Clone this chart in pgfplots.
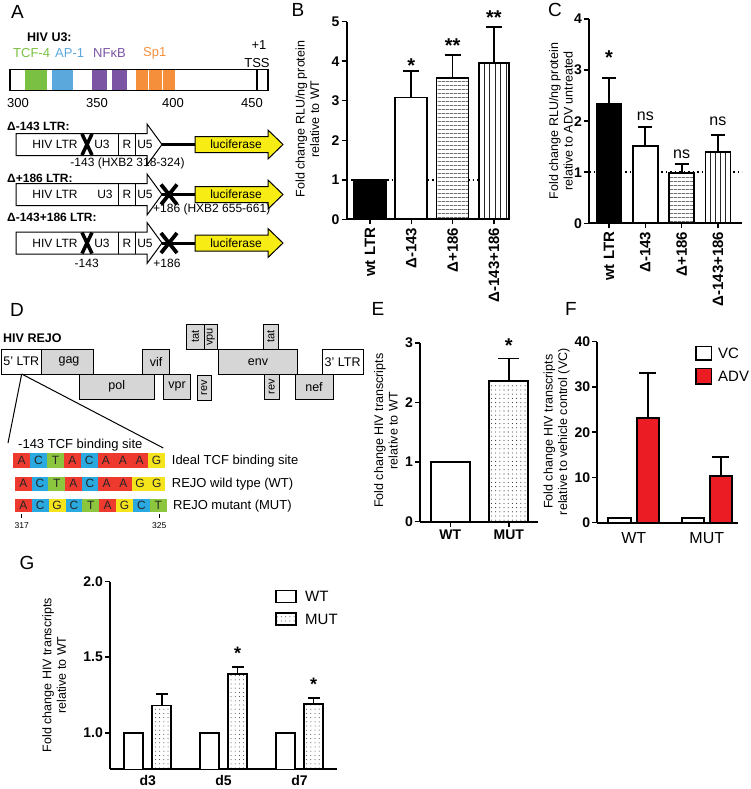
\documentclass[border=0pt]{standalone}
\usepackage{fontspec}
\setmainfont{Liberation Sans}
\usepackage{pgfplots}
\pgfplotsset{compat=1.18}
\usetikzlibrary{patterns.meta}
\newcommand{\fs}[1]{\fontsize{#1}{#1}\selectfont}
\definecolor{tcfgreen}{HTML}{7AC143}
\definecolor{apblue}{HTML}{5BA8DC}
\definecolor{nfpurple}{HTML}{7B55A3}
\definecolor{sporange}{HTML}{F58F3B}
\definecolor{lucyellow}{HTML}{F7EC13}
\definecolor{genegray}{HTML}{D6D6D6}
\definecolor{ntA}{HTML}{EE3A2E}
\definecolor{ntC}{HTML}{2AA9E0}
\definecolor{ntT}{HTML}{8CC63F}
\definecolor{ntG}{HTML}{F5E31C}
\definecolor{advred}{HTML}{EC1C24}
\pgfplotsset{
  gp/.style={scale only axis, axis x line*=bottom, axis y line*=left,
    axis line style={line width=1.8pt, black},
    tick style={black, line width=1.5pt},
    major tick length=5pt, tick align=outside,
    /pgf/number format/assume math mode=true,
    yticklabel style={font=\fs{14}\bfseries, inner sep=2pt},
    clip mode=individual},
  bar0/.style={ybar, bar shift=0pt, draw=black, line width=1.8pt},
  errb/.style={error bars/y dir=plus, error bars/y explicit,
    error bars/error bar style={line width=1.8pt, black},
    error bars/error mark options={rotate=90, line width=1.8pt, black, mark size=#1}},
}
\begin{document}
\begin{tikzpicture}
\useasboundingbox (0pt,0pt) rectangle (750pt,-789pt);
\begin{scope}[x=1pt,y=-1pt]
% ---------------- Panel letters
\node[font=\fs{19}] at (17.5,11.5) {A};
\node[font=\fs{19}] at (298,10) {B};
\node[font=\fs{19}] at (555,10) {C};
\node[font=\fs{19}] at (17,310) {D};
\node[font=\fs{19}] at (378,309) {E};
\node[font=\fs{19}] at (571,309) {F};
\node[font=\fs{19}] at (27,563) {G};
% ---------------- Panel A
\node[font=\fs{12.5}\bfseries, anchor=west, inner sep=0] at (27,37) {HIV U3:};
\node[font=\fs{13}, text=tcfgreen, anchor=west, inner sep=0] at (13,53.3) {TCF-4};
\node[font=\fs{13}, text=apblue, anchor=west, inner sep=0] at (55,53.3) {AP-1};
\node[font=\fs{13}, text=nfpurple, anchor=west, inner sep=0] at (93,53.3) {NFκB};
\node[font=\fs{13}, text=sporange, anchor=west, inner sep=0] at (143,53.3) {Sp1};
\node[font=\fs{13}] at (259,45) {+1};
\node[font=\fs{13}] at (257,63) {TSS};
\fill[tcfgreen] (25,69.3) rectangle (46.7,90.7);
\fill[apblue] (52.3,69.3) rectangle (73.3,90.7);
\fill[nfpurple] (92.3,69.3) rectangle (107.3,90.7);
\fill[nfpurple] (111.7,69.3) rectangle (126.7,90.7);
\fill[sporange] (136,69.3) rectangle (147.7,90.7);
\fill[sporange] (149.3,69.3) rectangle (161.7,90.7);
\fill[sporange] (163.3,69.3) rectangle (175,90.7);
\draw[line width=1.1pt] (10,69.3) rectangle (268,90.7);
\draw[line width=1.1pt] (257,69.3) -- (257,90.7);
\node[font=\fs{13}] at (18,103.3) {300};
\node[font=\fs{13}] at (97,103.3) {350};
\node[font=\fs{13}] at (173,103.3) {400};
\node[font=\fs{13}] at (252,103.3) {450};
% constructs
\node[font=\fs{12}\bfseries, anchor=west, inner sep=0] at (7,126) {Δ-143 LTR:};
\node[font=\fs{12}\bfseries, anchor=west, inner sep=0] at (7,178.3) {Δ+186 LTR:};
\node[font=\fs{12}\bfseries, anchor=west, inner sep=0] at (7,217.3) {Δ-143+186 LTR:};
\foreach \c/\xa/\xb/\ux in {144.5/1/0/102, 194.5/0/1/105, 243/1/1/102}{
\begin{scope}[shift={(0,\c)}]
\draw[line width=1pt, fill=white] (16,-11) -- (147,-11) -- (147,-20.5) -- (162,0) -- (147,20.5) -- (147,11) -- (16,11) -- cycle;
\draw[line width=1pt] (118,-11) -- (118,11) (135,-11) -- (135,11);
\draw[line width=3pt] (162,0) -- (195,0);
\draw[line width=1pt, fill=lucyellow] (195,-8) -- (268,-8) -- (268,-14.5) -- (283,0) -- (268,14.5) -- (268,8) -- (195,8) -- cycle;
\node[font=\fs{12}] at (236,0) {luciferase};
\node[font=\fs{12}] at (55,0) {HIV LTR};
\node[font=\fs{12}] at (\ux,0) {U3};
\node[font=\fs{12}] at (127,0) {R};
\node[font=\fs{12}] at (145,0) {U5};
\ifnum\xa=1 \draw[line width=3.5pt] (82,-10.5) -- (92,10.5) (82,10.5) -- (92,-10.5); \fi
\ifnum\xb=1 \draw[line width=3.8pt] (161,-10) -- (177,10) (161,10) -- (177,-10); \fi
\end{scope}}
\node[font=\fs{12}] at (127.5,163.3) {-143 (HXB2 318-324)};
\node[font=\fs{12}, anchor=west, inner sep=0] at (153,209.5) {+186 (HXB2 655-661)};
\node[font=\fs{12}] at (86.7,263.3) {-143};
\node[font=\fs{12}] at (167,263.3) {+186};
% ---------------- Panel D
\node[font=\fs{12.5}\bfseries, anchor=west, inner sep=0] at (3,338) {HIV REJO};
\draw[line width=1pt, fill=white] (1,349.3) rectangle (41.7,374);
\draw[line width=1pt, fill=genegray] (41.7,349.3) rectangle (93.3,374);
\draw[line width=1pt, fill=genegray] (142.7,349.3) rectangle (169.3,374);
\draw[line width=1pt, fill=genegray] (218.3,349.3) rectangle (297.7,374);
\draw[line width=1pt, fill=white] (322.7,349.3) rectangle (363,374);
\draw[line width=1pt, fill=genegray] (79.3,374) rectangle (154.3,399.3);
\draw[line width=1pt, fill=genegray] (163.3,374) rectangle (190.7,399.3);
\draw[line width=1pt, fill=genegray] (197.7,375) rectangle (211,400);
\draw[line width=1pt, fill=genegray] (264,374) rectangle (279.3,399.3);
\draw[line width=1pt, fill=genegray] (295,374) rectangle (333.3,399.3);
\draw[line width=1pt, fill=genegray] (186.7,324.3) rectangle (204,349.3);
\draw[line width=1pt, fill=genegray] (204,324.3) rectangle (217.7,349.3);
\draw[line width=1pt, fill=genegray] (263.3,324.3) rectangle (278.3,349.3);
\node[font=\fs{12.5}] at (21.3,361.7) {5' LTR};
\node[font=\fs{12.5}] at (69,361.7) {gag};
\node[font=\fs{12.5}] at (156,361.7) {vif};
\node[font=\fs{12.5}] at (258,361.7) {env};
\node[font=\fs{12.5}, anchor=west, inner sep=0] at (324.5,361.7) {3' LTR};
\node[font=\fs{12.5}] at (116.8,386.7) {pol};
\node[font=\fs{12.5}] at (177,386.7) {vpr};
\node[font=\fs{12.5}] at (314,386.7) {nef};
\node[font=\fs{11}, rotate=90] at (204.3,387.5) {rev};
\node[font=\fs{11}, rotate=90] at (271.7,386.7) {rev};
\node[font=\fs{11}, rotate=90] at (195.3,336.8) {tat};
\node[font=\fs{11}, rotate=90] at (210.8,336.8) {vpu};
\node[font=\fs{11}, rotate=90] at (270.8,336.8) {tat};
\draw[line width=1pt] (21.7,374) -- (8,443);
\draw[line width=1pt] (21.7,374) -- (163.3,448);
\node[font=\fs{13}, anchor=west, inner sep=0] at (18,445) {-143 TCF binding site};
\foreach \b [count=\i from 0] in {A,C,T,A,C,A,A,A,G}{
  \fill[nt\b] ({13.3+\i*16.85},453.3) rectangle ({13.3+(\i+1)*16.85},468.3);
  \node[font=\fs{12}, text=black!85] at ({13.3+(\i+0.5)*16.85},460.8) {\b};}
\foreach \b [count=\i from 0] in {A,C,T,A,C,A,A,G,G}{
  \fill[nt\b] ({15+\i*16.67},476.7) rectangle ({15+(\i+1)*16.67},490.7);
  \node[font=\fs{12}, text=black!85] at ({15+(\i+0.5)*16.67},483.7) {\b};}
\foreach \b [count=\i from 0] in {A,C,G,C,T,A,G,C,T}{
  \fill[nt\b] ({15+\i*16.85},499) rectangle ({15+(\i+1)*16.85},512.3);
  \node[font=\fs{12}, text=black!85] at ({15+(\i+0.5)*16.85},505.7) {\b};}
\node[font=\fs{13}, anchor=west, inner sep=0] at (171.7,460.7) {Ideal TCF binding site};
\node[font=\fs{13}, anchor=west, inner sep=0] at (171.7,484) {REJO wild type (WT)};
\node[font=\fs{13}, anchor=west, inner sep=0] at (173,505.7) {REJO mutant (MUT)};
\draw[line width=0.8pt] (21.7,514) -- (21.7,518) (159.3,514) -- (159.3,518);
\node[font=\fs{8.5}] at (21.7,526) {317};
\node[font=\fs{8.5}] at (159.3,526) {325};
% ---------------- y labels
\node[rotate=90, align=center, font=\fontsize{12.5}{14.5}\selectfont] at (307.3,119) {Fold change RLU/ng protein\\relative to WT};
\node[rotate=90, align=center, font=\fontsize{12.5}{14.5}\selectfont] at (561,121) {Fold change RLU/ng protein\\relative to ADV untreated};
\node[rotate=90, align=center, font=\fontsize{12.5}{14.5}\selectfont] at (386,430.7) {Fold change HIV transcripts\\relative to WT};
\node[rotate=90, align=center, font=\fontsize{12.5}{14.5}\selectfont] at (556.7,431.7) {Fold change HIV transcripts\\relative to vehicle control (VC)};
\node[rotate=90, align=center, font=\fontsize{12.5}{14.5}\selectfont] at (54.2,675) {Fold change HIV transcripts\\relative to WT};
% legends
\draw[line width=1.5pt, fill=white] (696,346.7) rectangle (711.7,360);
\draw[line width=1.5pt, fill=advred] (696,368.3) rectangle (711.7,384);
\node[anchor=west, font=\fs{15}, inner sep=0] at (718,353.5) {VC};
\node[anchor=west, font=\fs{15}, inner sep=0] at (718,376) {ADV};
\draw[line width=1.5pt, fill=white] (276,590.7) rectangle (296,602.7);
\draw[line width=1.5pt, fill=white, postaction={pattern={Dots[distance=4.2pt, radius=0.5pt]}, pattern color=black!80}] (276,613) rectangle (296,625);
\node[anchor=west, font=\fs{15}, inner sep=0] at (305,596.7) {WT};
\node[anchor=west, font=\fs{15}, inner sep=0] at (305,619) {MUT};
\end{scope}
% ---------------- Panel B
\begin{axis}[gp, at={(346.7pt,-219.3pt)}, anchor=south west, width=163.3pt, height=197.6pt,
  xmin=-0.564, xmax=3.39, ymin=0, ymax=5, ytick={0,1,2,3,4,5},
  xtick={0,1,2,3}, xticklabels={wt LTR,Δ-143,Δ+186,Δ-143+186},
  xticklabel style={rotate=90, anchor=east, font=\fs{15}\bfseries}]
\addplot[black, line width=1.5pt, dash pattern=on 1.5pt off 3pt] coordinates {(-0.564,1) (3.39,1)};
\addplot[bar0, bar width=32pt, fill=black] coordinates {(0,1)};
\addplot[bar0, bar width=32pt, fill=white, errb=8pt] coordinates {(1,3.08) +- (0,0.67)};
\addplot[bar0, bar width=32pt, fill=white, postaction={pattern={Lines[distance=4pt, line width=0.8pt]}, pattern color=black!85}, errb=8pt] coordinates {(2,3.58) +- (0,0.58)};
\addplot[bar0, bar width=30pt, fill=white, postaction={pattern={Lines[angle=90, distance=5.5pt, line width=0.9pt]}, pattern color=black!85}, errb=8pt] coordinates {(3,3.96) +- (0,0.9)};
\node[font=\fs{20}\bfseries, anchor=base, yshift=-11pt] at (axis cs:1,3.99) {*};
\node[font=\fs{20}\bfseries, anchor=base, yshift=-11pt] at (axis cs:2,4.5) {**};
\node[font=\fs{20}\bfseries, anchor=base, yshift=-11pt] at (axis cs:3,5.22) {**};
\end{axis}
% ---------------- Panel C
\begin{axis}[gp, at={(589pt,-223.3pt)}, anchor=south west, width=153pt, height=204.3pt,
  xmin=-0.551, xmax=3.664, ymin=0, ymax=4, ytick={0,1,2,3,4},
  xtick={0,1,2,3}, xticklabels={wt LTR,Δ-143,Δ+186,Δ-143+186},
  xticklabel style={rotate=90, anchor=east, font=\fs{15}\bfseries}]
\addplot[black, line width=1.5pt, dash pattern=on 1.5pt off 3pt] coordinates {(-0.551,1) (3.664,1)};
\addplot[bar0, bar width=25pt, fill=black, errb=7pt] coordinates {(0,2.34) +- (0,0.5)};
\addplot[bar0, bar width=25pt, fill=white, errb=7pt] coordinates {(1,1.52) +- (0,0.37)};
\addplot[bar0, bar width=25pt, fill=white, postaction={pattern={Lines[distance=4pt, line width=0.8pt]}, pattern color=black!85}, errb=7pt] coordinates {(2,0.98) +- (0,0.18)};
\addplot[bar0, bar width=25pt, fill=white, postaction={pattern={Lines[angle=90, distance=5pt, line width=0.9pt]}, pattern color=black!85}, errb=7pt] coordinates {(3,1.40) +- (0,0.33)};
\node[font=\fs{20}\bfseries, anchor=base, yshift=-11pt] at (axis cs:0,3.33) {*};
\node[font=\fs{16}] at (axis cs:1,2.09) {ns};
\node[font=\fs{16}] at (axis cs:2,1.35) {ns};
\node[font=\fs{16}] at (axis cs:3,2.0) {ns};
\end{axis}
% ---------------- Panel E
\begin{axis}[gp, at={(420pt,-521.7pt)}, anchor=south west, width=118pt, height=178.7pt,
  xmin=-0.518, xmax=1.499, ymin=0, ymax=3, ytick={0,1,2,3},
  xtick={0,1}, xticklabels={WT,MUT},
  xticklabel style={font=\fs{14}\bfseries}]
\addplot[bar0, bar width=39pt, fill=white, line width=1.5pt] coordinates {(0,1)};
\addplot[bar0, bar width=39pt, fill=white, postaction={pattern={Dots[distance=4.2pt, radius=0.55pt]}, pattern color=black!80}, errb=10.5pt] coordinates {(1,2.36) +- (0,0.38)};
\node[font=\fs{20}\bfseries, anchor=base, yshift=-11pt] at (axis cs:1,3.02) {*};
\end{axis}
% ---------------- Panel F
\begin{axis}[gp, at={(597.3pt,-522.7pt)}, anchor=south west, width=140.7pt, height=181pt,
  xmin=0, xmax=140.7, ymin=0, ymax=40, ytick={0,10,20,30,40},
  xtick=\empty, extra x ticks={36.4,109.5}, extra x tick labels={WT,MUT},
  extra x tick style={major tick length=0pt, tick label style={font=\fs{16}, yshift=-6pt}}]
\addplot[bar0, bar width=22.3pt, fill=white] coordinates {(22.2,1)};
\addplot[bar0, bar width=22.3pt, fill=advred, errb=8.5pt] coordinates {(50.5,23.07) +- (0,9.93)};
\addplot[bar0, bar width=22.3pt, fill=white] coordinates {(95.5,1)};
\addplot[bar0, bar width=22.3pt, fill=advred, errb=8.5pt] coordinates {(123.5,10.4) +- (0,4.05)};
\end{axis}
% ---------------- Panel G
\begin{axis}[gp, at={(110pt,-769.3pt)}, anchor=south west, width=226.7pt, height=187.6pt,
  xmin=0, xmax=226.7, ymin=0.758, ymax=2.0, ytick={1.0,1.5,2.0},
  yticklabel style={/pgf/number format/.cd, fixed, fixed zerofill, precision=1},
  xtick=\empty, extra x ticks={37.7,113.5,189.5}, extra x tick labels={d3,d5,d7},
  extra x tick style={major tick length=0pt, tick label style={font=\fs{14}\bfseries, yshift=-3pt}}]
\addplot[bar0, bar width=19pt, fill=white, line width=1.5pt] coordinates {(23.7,1)};
\addplot[bar0, bar width=19pt, fill=white, line width=1.5pt] coordinates {(99.7,1)};
\addplot[bar0, bar width=19pt, fill=white, line width=1.5pt] coordinates {(175.7,1)};
\addplot[bar0, bar width=19pt, fill=white, postaction={pattern={Dots[distance=4.2pt, radius=0.5pt]}, pattern color=black!80}, errb=6pt] coordinates {(51.8,1.18) +- (0,0.076)};
\addplot[bar0, bar width=19pt, fill=white, postaction={pattern={Dots[distance=4.2pt, radius=0.5pt]}, pattern color=black!80}, errb=6pt] coordinates {(127.5,1.389) +- (0,0.048)};
\addplot[bar0, bar width=19pt, fill=white, postaction={pattern={Dots[distance=4.2pt, radius=0.5pt]}, pattern color=black!80}, errb=6pt] coordinates {(203.5,1.19) +- (0,0.04)};
\node[font=\fs{18}\bfseries, anchor=base, yshift=-10pt] at (axis cs:127.5,1.548) {*};
\node[font=\fs{18}\bfseries, anchor=base, yshift=-10pt] at (axis cs:203.5,1.344) {*};
\end{axis}
\end{tikzpicture}
\end{document}
